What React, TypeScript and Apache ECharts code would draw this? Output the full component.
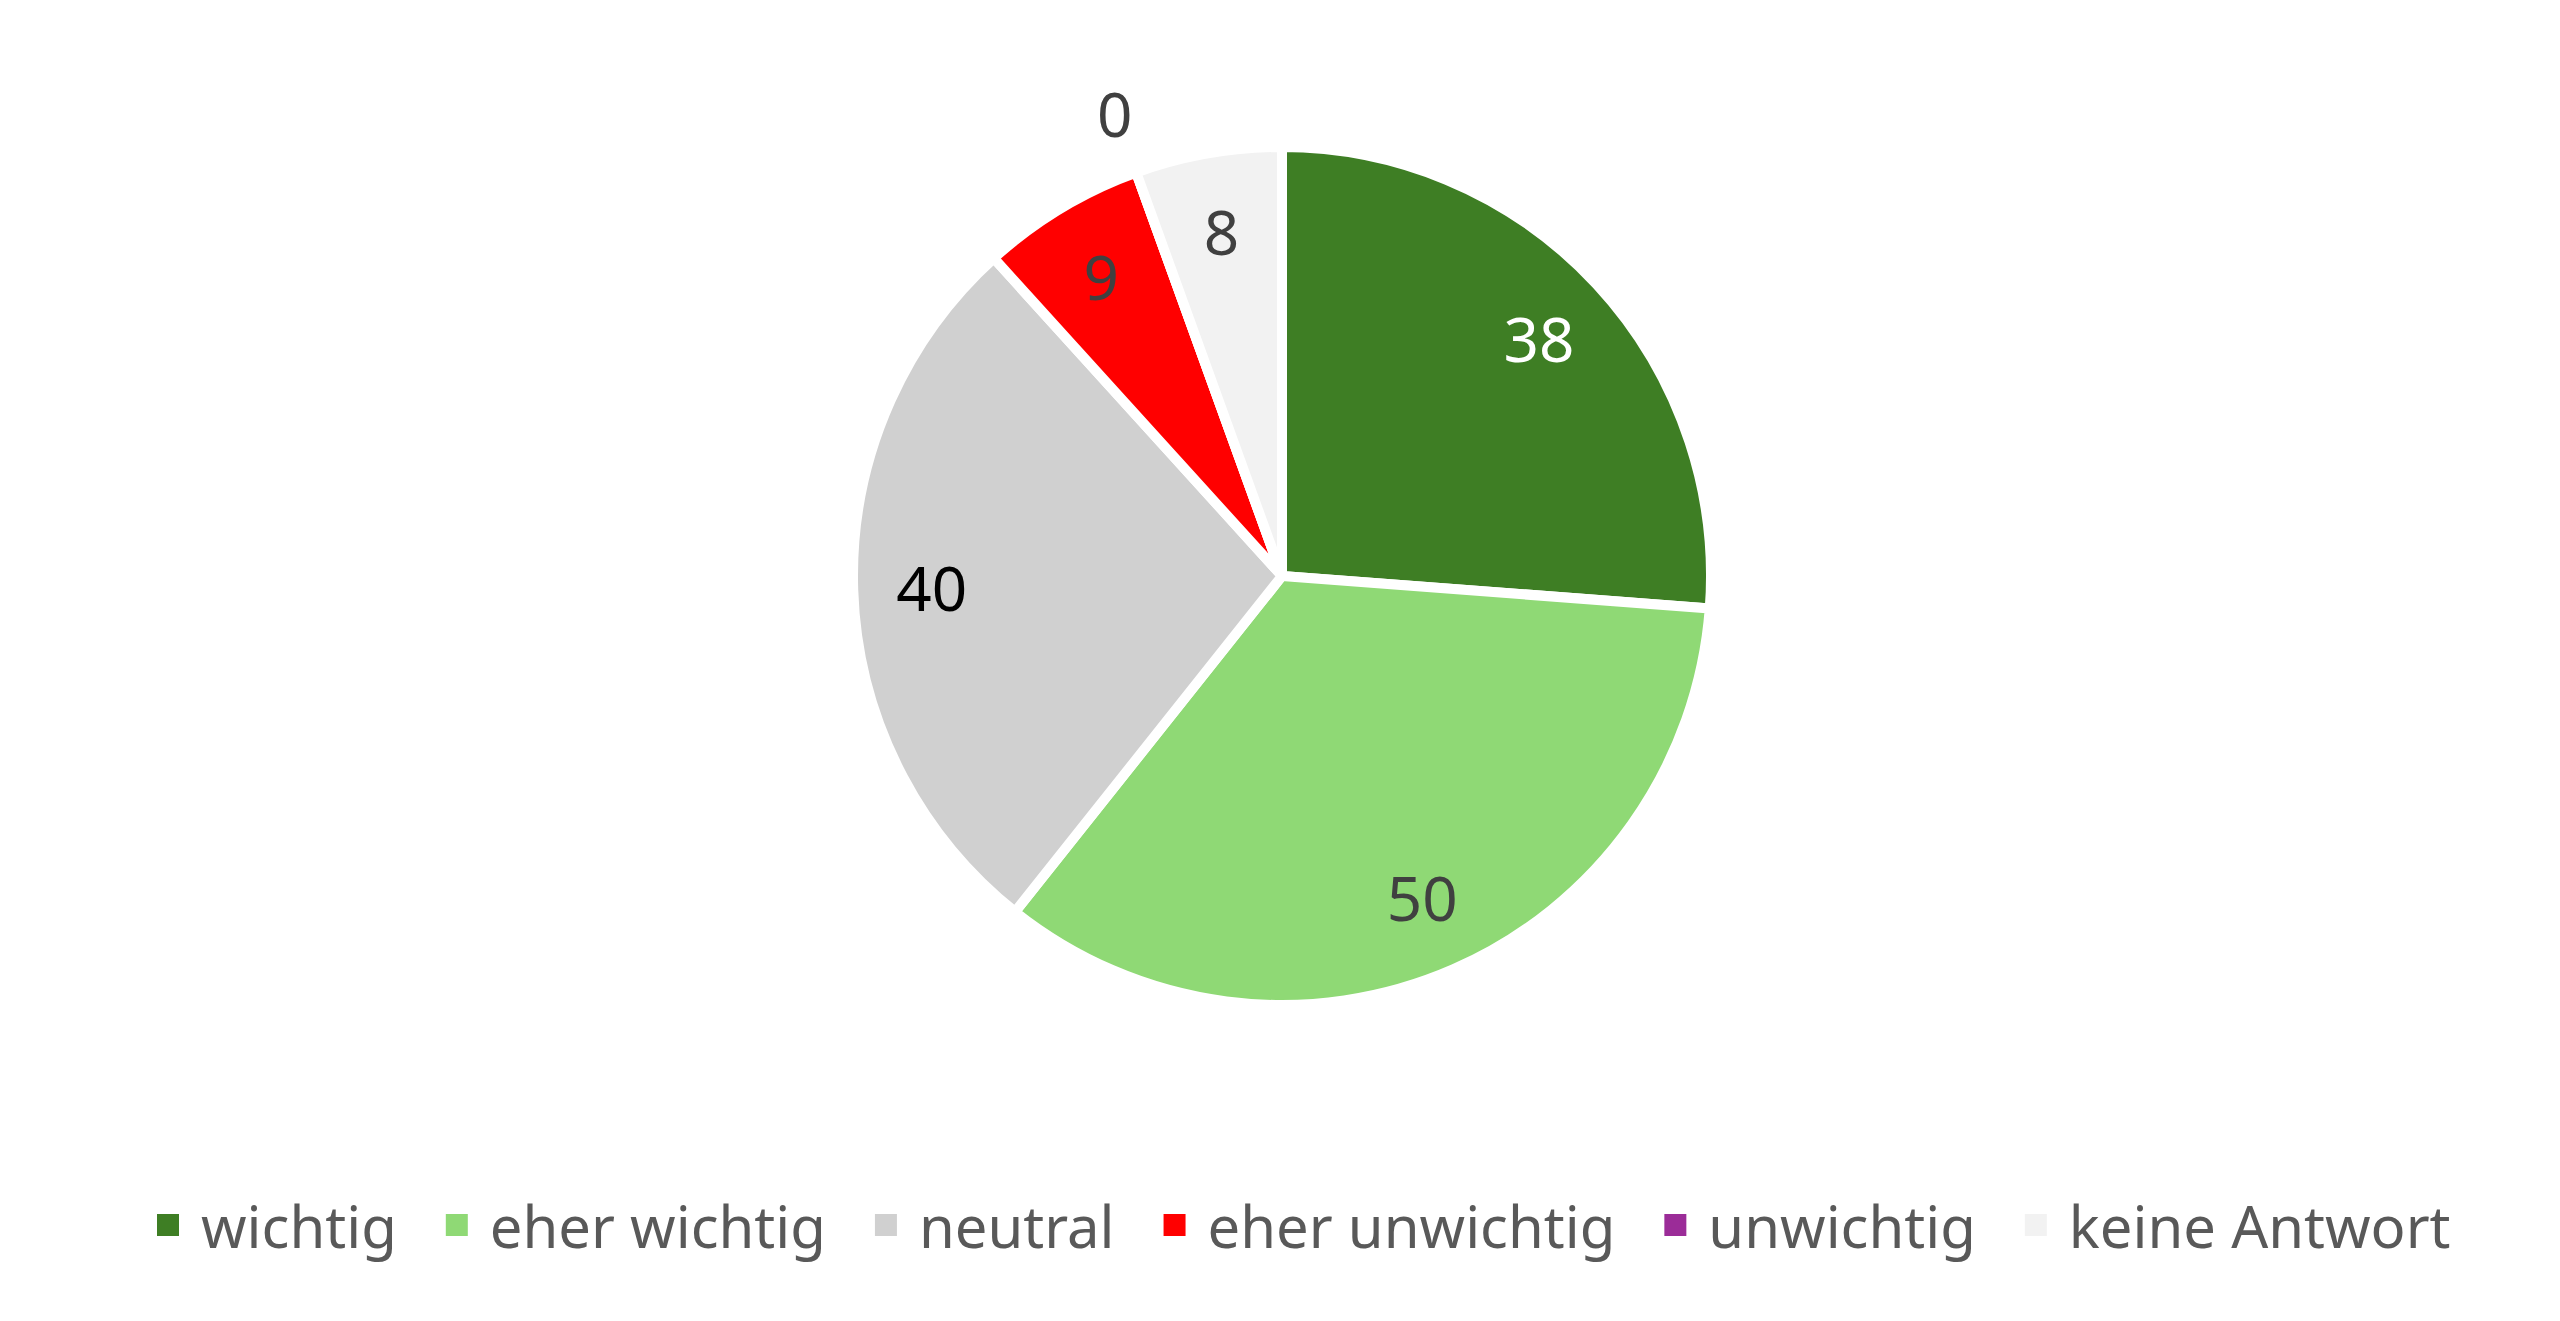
import { useEffect, useRef } from 'react';
import * as echarts from 'echarts';

const categories = ['wichtig', 'eher wichtig', 'neutral', 'eher unwichtig', 'unwichtig', 'keine Antwort'];
const values = [38, 50, 40, 9, 0, 8];
const colors = ['#3E7E24', '#8FD975', '#D0D0D0', '#FF0000', '#9B2C98', '#F2F2F2'];
const labelColors = ['#FFFFFF', '#404040', '#000000', '#404040', '#404040', '#404040'];

const FONT = '"Noto Sans", "Open Sans", sans-serif';
const CENTER = [1282, 576];
const RADIUS = 429;

export default function App() {
  const chartRef = useRef<HTMLDivElement>(null);

  useEffect(() => {
    if (!chartRef.current) return;
    const chart = echarts.init(chartRef.current, undefined, { renderer: 'svg' });

    const labelBase = {
      show: true,
      position: 'inside' as const,
      formatter: '{c}',
      fontSize: 62,
      fontFamily: FONT,
    };

    const option: echarts.EChartsOption = {
      animation: false,
      backgroundColor: '#FFFFFF',
      legend: {
        data: categories,
        top: 1191,
        left: 150,
        icon: 'rect',
        itemWidth: 24,
        itemHeight: 24,
        itemGap: 47,
        textStyle: { fontSize: 58, color: '#595959', fontFamily: FONT, padding: [0, 0, 0, 16] },
      },
      series: [
        {
          // slices
          type: 'pie',
          center: CENTER,
          radius: RADIUS,
          startAngle: 90,
          clockwise: true,
          silent: true,
          label: { show: false },
          labelLine: { show: false },
          itemStyle: { borderColor: '#FFFFFF', borderWidth: 10 },
          data: categories.map((name, i) => ({
            name,
            value: values[i],
            itemStyle: { color: colors[i] },
          })),
        },
        {
          // labels inside the slices, at ~0.82 of the radius
          type: 'pie',
          center: CENTER,
          radius: [RADIUS * 0.62, RADIUS],
          startAngle: 90,
          clockwise: true,
          silent: true,
          labelLine: { show: false },
          data: categories.map((name, i) => ({
            name,
            value: values[i],
            itemStyle: { color: 'rgba(0,0,0,0)' },
            label: { ...labelBase, show: values[i] !== 0, color: labelColors[i] },
          })),
        },
        {
          // labels of empty slices, just outside the pie
          type: 'pie',
          center: CENTER,
          radius: [RADIUS * 0.95, RADIUS * 1.33],
          startAngle: 90,
          clockwise: true,
          silent: true,
          labelLine: { show: false },
          data: categories.map((name, i) => ({
            name,
            value: values[i],
            itemStyle: { color: 'rgba(0,0,0,0)' },
            label: { ...labelBase, show: values[i] === 0, color: labelColors[i] },
          })),
        },
      ],
    };

    chart.setOption(option);
    return () => chart.dispose();
  }, []);

  return (
    <div
      ref={chartRef}
      style={{ position: 'fixed', left: 0, top: 0, width: '2560px', height: '1321px' }}
    />
  );
}
